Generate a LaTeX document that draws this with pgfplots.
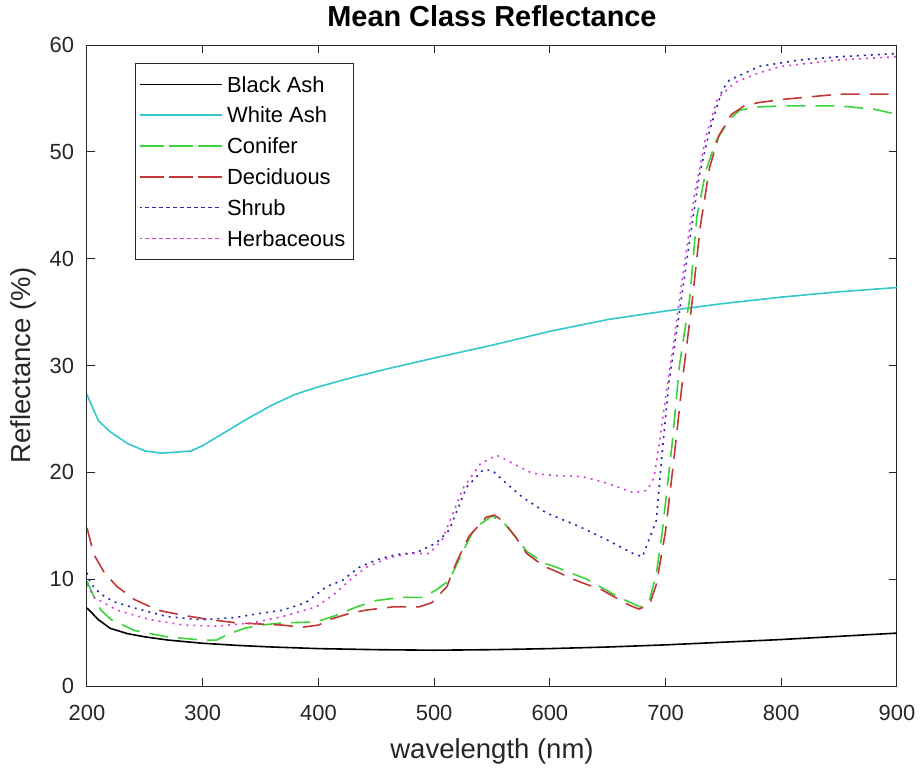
\documentclass[border=0pt]{standalone}
\usepackage{fontspec}
\setmainfont{Liberation Sans}
\usepackage{pgfplots}
\pgfplotsset{compat=1.18}
\usetikzlibrary{calc}
\definecolor{axgray}{RGB}{38,38,38}
\definecolor{cyanl}{RGB}{50,200,205}
\definecolor{greenl}{RGB}{60,210,60}
\definecolor{redl}{RGB}{195,55,55}
\definecolor{bluel}{RGB}{40,40,170}
\definecolor{magl}{RGB}{220,60,220}
\begin{document}
\begin{tikzpicture}
\begin{axis}[
  scale only axis,
  width=405bp, height=320.5bp,
  xmin=200, xmax=900, ymin=0, ymax=60,
  xtick={200,300,...,900}, ytick={0,10,...,60},
  tick align=inside, tickwidth=4bp,
  axis line style={axgray, line width=0.5bp},
  tick style={axgray, line width=0.5bp},
  every tick label/.append style={font=\fontsize{11}{13}\selectfont, text=axgray},
  /pgf/number format/assume math mode=true,
  /pgf/number format/1000 sep={},
  xticklabel style={yshift=-6bp},
  yticklabel style={xshift=-3bp},
  xlabel={wavelength (nm)},
  ylabel={Reflectance (\%)},
  xlabel style={font=\fontsize{13.8}{16}\selectfont, text=axgray, at={(axis description cs:0.5,-0.102)}, anchor=center},
  ylabel style={font=\fontsize{13.8}{16}\selectfont, text=axgray, at={(axis description cs:-0.079,0.5)}, anchor=center},
  title={\textbf{Mean Class Reflectance}},
  title style={font=\fontsize{14.5}{17}\selectfont, at={(axis description cs:0.5,1.027)}, anchor=center},
  legend cell align=left,
  legend style={at={(0.0593,0.972)}, anchor=north west, draw=axgray, line width=0.5bp,
    font=\fontsize{11}{13}\selectfont, inner xsep=2bp, inner ysep=2.8bp, row sep=0pt,
    nodes={text height=8.8bp, text depth=1.2bp, inner ysep=2.7bp, inner xsep=2bp}},
  legend image code/.code={\path (-2.5bp,0bp) -- (38.5bp,0bp); \draw[#1, line width=0.8bp] (0bp,0bp) -- (38.5bp,0bp);},
]
\addplot[black, line width=0.8bp] coordinates {
(200,7.3)(210,6.2)(220,5.4)(235,4.9)(250,4.6)(270,4.3)(300,4.0)(330,3.8)(360,3.65)(400,3.5)
(450,3.4)(500,3.35)(550,3.4)(600,3.5)(650,3.65)(700,3.85)(750,4.1)(800,4.35)(850,4.65)(900,4.95)};
\addlegendentry{Black Ash}
\addplot[cyanl, line width=0.8bp] coordinates {
(200,27.3)(203,26.5)(210,24.8)(220,23.8)(235,22.7)(250,22.0)(265,21.8)(290,22.0)(300,22.5)
(320,23.8)(340,25.1)(360,26.3)(380,27.3)(400,28.0)(430,28.9)(460,29.7)(500,30.7)(550,31.9)
(600,33.2)(650,34.3)(700,35.1)(750,35.8)(800,36.4)(850,36.9)(900,37.3)};
\addlegendentry{White Ash}
\addplot[greenl, line width=0.8bp, dash pattern=on 9.5bp off 5bp] coordinates {
(200,9.8)(205,8.6)(212,7.1)(221,6.2)(241,5.2)(269,4.6)(299,4.3)(312,4.3)(321,4.8)(336,5.4)
(350,5.7)(369,5.9)(398,6.0)(415,6.6)(433,7.4)(450,8.0)(472,8.3)(490,8.3)(502,9.0)(513,9.9)
(524,12.4)(535,14.8)(550,15.9)(560,15.3)(570,14.0)(580,12.6)(595,11.5)(606,11.1)(620,10.5)
(632,10.0)(645,9.2)(658,8.4)(670,7.8)(678,7.4)(686,8.0)(692,10.5)(697,14.3)(706,23)(712,30)
(721,36.4)(727,43.9)(735,48.3)(744,51.1)(755,53.0)(764,53.9)(780,54.2)(800,54.3)(850,54.3)
(880,54.0)(900,53.5)};
\addlegendentry{Conifer}
\addplot[redl, line width=0.8bp, dash pattern=on 9.5bp off 5bp] coordinates {
(200,14.8)(206,12.3)(215,10.6)(226,9.3)(241,8.1)(261,7.1)(284,6.6)(307,6.2)(330,5.9)(350,5.8)
(369,5.7)(386,5.5)(400,5.7)(409,6.2)(427,6.8)(441,7.1)(464,7.4)(487,7.4)(498,7.8)(511,9.3)
(519,11.5)(530,14.0)(545,15.8)(552,16.0)(560,15.4)(570,14.0)(580,12.4)(595,11.2)(606,10.7)
(620,10.0)(632,9.5)(645,9.0)(658,8.2)(670,7.5)(677,7.2)(686,7.6)(692,9.5)(700,14.5)(708,22)
(715,29)(723,36)(730,43)(738,48.5)(746,51.5)(757,53.5)(768,54.3)(780,54.6)(800,54.9)
(850,55.4)(900,55.4)};
\addlegendentry{Deciduous}
\addplot[bluel, line width=0.8bp, dash pattern=on 1bp off 2.5bp] coordinates {
(200,10.6)(203,9.6)(212,8.6)(223,7.9)(241,7.3)(269,6.5)(299,6.2)(327,6.4)(350,6.8)(369,7.1)
(389,7.8)(407,9.3)(421,9.9)(435,11.1)(450,11.8)(467,12.3)(485,12.5)(502,13.4)(513,14.6)
(528,18.6)(542,20.2)(550,20.2)(560,19.2)(576,17.7)(597,16.2)(626,14.9)(649,13.7)(672,12.4)
(680,12.1)(692,15.5)(697,21.8)(703,28.5)(712,35)(718,39.6)(729,47.7)(738,52)(749,55.8)
(755,56.7)(781,58.0)(816,58.6)(850,58.9)(900,59.2)};
\addlegendentry{Shrub}
\addplot[magl, line width=0.8bp, dash pattern=on 1bp off 2.5bp] coordinates {
(200,9.5)(206,8.3)(226,7.1)(255,6.2)(284,5.7)(312,5.6)(342,5.9)(369,6.5)(398,7.4)(415,8.7)
(427,9.9)(441,11.1)(461,12.0)(479,12.4)(496,12.4)(507,13.7)(513,15.3)(525,18.5)(540,20.8)
(554,21.6)(565,21.0)(585,19.9)(605,19.7)(628,19.6)(649,19.0)(672,18.1)(684,18.3)(690,19.5)
(695,23)(700,27)(708,33)(715,38.5)(725,46)(735,51.5)(745,55.0)(760,56.5)(781,57.4)(800,58.0)
(850,58.6)(900,58.9)};
\addlegendentry{Herbaceous}
\end{axis}
\pgfresetboundingbox
\useasboundingbox ($(current axis.south west)+(-43.5bp,-41bp)$) rectangle ($(current axis.south west)+(416.5bp,343bp)$);
\end{tikzpicture}
\end{document}
